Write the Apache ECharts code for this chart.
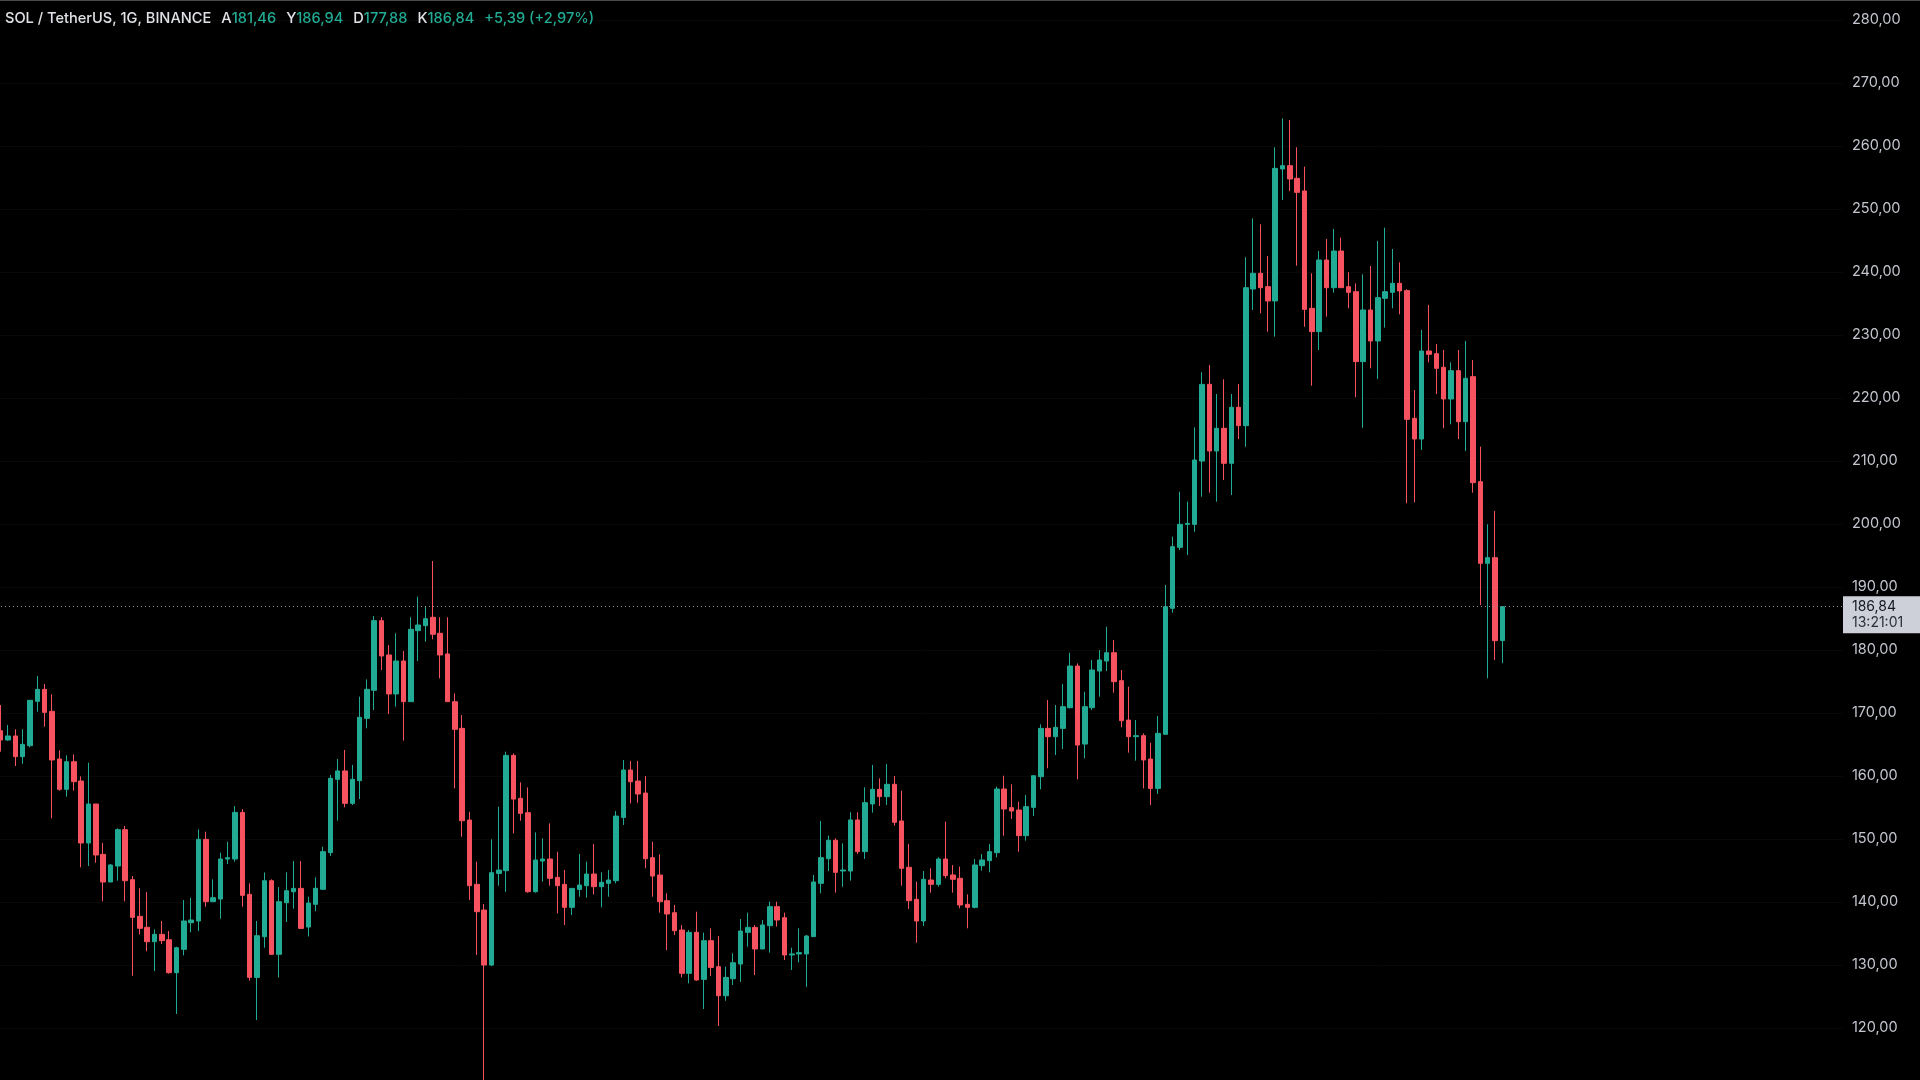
<!DOCTYPE html>
<html><head><meta charset="utf-8">
<script src="https://cdn.jsdelivr.net/npm/echarts@6/dist/echarts.min.js"></script>
<style>html,body{margin:0;padding:0;background:#000;overflow:hidden}#c{width:1920px;height:1080px}</style>
</head><body><div id="c"></div>
<script>
// ---- data (index = candle number, left to right) ----
const opens = [167.16,165.68,166.32,163.04,164.78,171.82,173.72,170.23,162.67,157.85,162.24,159.17,149.33,155.52,147.53,143.14,145.68,151.45,143.51,137.69,135.95,133.67,134.83,133.98,128.75,132.45,136.68,136.95,149.91,140.02,140.44,146.79,146.79,154.19,141.18,128.0,134.46,143.35,131.66,139.86,141.6,142.13,136.0,139.6,141.98,147.8,159.44,160.77,155.63,159.23,169.12,173.57,184.63,179.18,172.99,178.22,171.77,183.04,183.83,185.16,182.62,179.34,171.76,167.53,152.98,142.77,138.69,129.96,144.51,144.94,163.24,156.42,154.14,141.6,146.47,146.79,143.88,142.77,139.12,141.97,142.56,144.41,142.4,142.93,143.35,153.4,160.92,159.17,157.26,147.0,144.25,140.18,138.27,135.52,128.64,135.15,127.69,133.83,129.7,125.09,127.79,130.12,135.15,135.94,132.51,136.21,139.23,137.48,131.56,131.72,131.72,134.47,142.93,146.85,149.76,144.89,144.89,152.99,147.96,155.53,157.85,156.69,158.65,152.83,145.47,140.39,136.95,143.46,142.77,146.79,144.26,143.73,139.6,139.12,145.74,146.53,147.8,157.9,154.94,154.57,150.5,154.99,159.86,167.53,166.21,167.53,170.81,177.42,165.04,170.81,176.63,178.22,179.54,175.1,168.85,166.21,166.37,162.66,158.0,166.58,186.58,196.26,199.91,199.91,209.96,222.14,211.56,215.16,209.6,218.49,215.58,237.27,239.76,237.64,235.37,256.32,256.85,254.84,252.83,234.2,230.5,241.87,237.48,243.3,237.64,236.85,225.74,233.94,229.02,235.79,236.74,238.17,237.01,216.74,213.46,227.43,227.01,224.84,219.81,224.31,216.21,223.36,206.69,193.73,194.63,181.46];
const closes = [165.68,166.32,163.04,164.99,171.98,173.72,170.07,162.51,157.85,162.24,159.07,149.33,155.52,147.43,143.14,145.84,151.45,143.35,137.53,135.79,133.67,134.83,133.83,128.75,132.71,136.95,137.11,149.91,140.02,140.65,146.79,147.0,154.19,141.02,128.0,134.62,143.35,131.66,140.02,141.76,142.13,135.78,139.8,142.14,147.96,159.6,160.77,155.63,159.44,169.28,173.73,184.63,179.02,172.99,178.22,171.77,183.25,183.94,184.94,182.46,179.18,171.77,167.37,152.87,142.56,138.43,129.96,144.62,145.04,163.24,156.31,154.04,141.6,146.63,146.79,143.72,142.56,139.12,142.13,142.66,144.41,142.4,143.09,143.46,153.61,160.92,159.06,157.11,146.84,144.09,140.02,138.06,135.41,128.64,135.15,127.58,133.83,129.59,125.09,128.0,130.33,135.36,135.94,132.51,136.32,139.23,137.11,131.56,131.72,131.93,134.57,143.15,147.01,149.76,144.68,145.05,152.99,147.96,155.74,157.85,156.69,158.65,152.62,145.31,140.18,136.95,143.57,142.77,146.79,144.15,143.57,139.49,139.12,145.84,146.63,147.96,157.9,154.73,154.41,150.5,155.1,160.02,167.53,166.21,167.69,170.97,177.42,164.88,170.97,176.79,178.38,179.54,174.94,168.75,166.21,166.37,162.51,158.0,166.74,186.84,196.37,199.91,200.07,210.12,222.13,211.56,215.16,209.6,218.49,215.58,237.48,239.76,237.48,235.37,256.42,256.85,254.73,252.61,234.04,230.5,241.87,237.48,243.3,237.48,236.74,225.74,233.94,229.02,235.9,236.85,238.17,236.96,216.58,213.46,227.43,226.9,224.68,219.81,224.31,216.21,223.09,206.53,193.73,194.63,181.45,186.84];
const lows = [163.83,165.58,161.55,161.93,164.52,170.18,167.8,153.25,157.64,156.69,157.64,145.47,145.68,146.21,140.07,143.14,143.35,140.07,128.27,134.83,132.14,129.01,133.3,128.59,122.2,131.5,135.15,135.36,139.22,140.02,137.32,146.0,146.36,139.22,127.48,121.23,132.71,131.55,128.0,136.79,138.9,135.78,134.5,138.5,141.9,147.27,152.88,155.0,155.37,156.32,167.54,170.45,176.79,169.81,170.98,165.58,171.77,178.22,181.29,181.66,175.47,171.77,158.0,150.33,140.28,131.55,109.0,129.8,142.56,141.6,150.86,152.87,141.44,141.44,143.19,142.56,138.16,136.31,137.9,140.81,140.65,141.18,139.12,140.81,142.93,152.19,155.62,155.73,145.31,140.81,138.27,132.34,134.72,128.0,127.05,127.48,122.98,128.22,120.28,124.3,126.79,127.27,132.87,128.38,132.51,131.93,136.06,130.76,129.18,130.39,126.5,134.47,141.35,144.89,141.45,142.4,143.36,147.59,146.8,154.15,155.21,155.37,152.09,142.56,138.86,133.51,136.16,141.45,142.4,143.73,141.45,138.96,135.79,138.96,144.94,144.68,147.06,150.5,153.14,147.96,149.7,153.62,157.85,161.19,163.3,164.25,170.7,159.44,162.77,170.44,172.56,176.63,173.19,167.69,163.67,162.4,158.0,155.36,157.11,166.58,185.89,195.84,195.04,198.75,204.3,204.94,203.5,206.95,204.57,213.46,212.24,233.94,233.41,230.5,229.71,251.4,252.83,240.97,231.29,221.93,227.59,232.88,236.69,237.48,234.2,220.08,215.26,224.68,222.99,231.14,234.2,233.25,203.25,203.41,211.72,225.63,220.61,215.16,215.79,213.46,211.56,204.94,187.11,175.47,178.38,177.88];
const highs = [171.24,168.06,167.38,167.38,171.98,175.84,174.57,172.93,164.04,163.25,163.41,159.91,162.08,155.52,149.33,146.0,151.66,152.03,144.09,142.14,141.55,135.62,136.95,135.36,132.87,140.28,140.65,151.5,151.13,143.56,147.79,149.54,155.2,154.72,142.93,136.95,144.67,143.56,142.34,144.67,146.47,146.47,140.82,143.88,148.75,160.13,162.67,164.1,161.72,172.56,175.31,185.37,185.16,180.76,182.62,179.81,185.16,188.44,186.85,194.1,185.16,185.16,173.09,169.65,154.3,146.37,139.65,149.91,155.1,163.83,163.56,158.96,158.16,151.02,150.07,152.45,147.95,145.04,142.13,147.58,146.37,149.17,144.67,145.04,154.41,162.5,162.34,162.34,159.96,149.54,147.53,141.34,139.49,136.31,135.52,138.43,135.1,135.78,134.57,129.7,131.82,137.27,138.27,136.3,137.11,140.02,140.02,138.28,132.72,135.79,134.73,144.26,152.83,150.5,150.08,149.28,154.2,154.2,158.17,161.72,159.6,161.88,159.97,157.64,149.17,143.2,144.89,145.31,147.06,152.72,145.84,145.58,141.18,146.79,147.59,149.17,158.27,160.02,158.64,155.89,156.95,160.02,168.17,172.03,171.23,174.57,179.54,177.85,173.35,178.38,179.96,183.67,181.55,176.79,174.14,168.85,166.74,165.25,169.49,190.28,197.95,205.1,203.51,215.31,224.04,225.21,220.6,222.93,220.6,222.19,242.3,248.49,247.53,242.51,259.76,264.36,264.1,259.76,256.69,239.76,243.3,245.21,246.8,245.42,239.92,238.17,239.6,240.92,244.89,247.01,243.62,241.51,237.22,221.24,230.77,234.73,228.54,227.59,225.63,227.59,229.02,226.0,212.25,199.92,202.04,186.94];
const priceTicks = [120,130,140,150,160,170,180,190,200,210,220,230,240,250,260,270,280];
const lastPrice = 186.84;
const countdownText = '13:21:01';
const symbolText = 'SOL / TetherUS, 1G, BINANCE';
const ohlcKeys = ['A','Y','D','K'];
const ohlcVals = ['181,46','186,94','177,88','186,84'];
const changeText = '+5,39 (+2,97%)';

const UP = '#22ab94', DOWN = '#f7525f';
const FONT = 'Inter, Roboto, sans-serif';
const slotCount = 252; // candles plus empty right margin
const categories = Array.from({length: slotCount}, (_, i) => String(i));
const candleData = opens.map((o, i) => [o, closes[i], lows[i], highs[i]]);
const fmt = v => v.toFixed(2).replace('.', ',');

const chart = echarts.init(document.getElementById('c'), null, {renderer: 'canvas'});
const headerRich = '{w|' + symbolText + '}  ' +
  ohlcKeys.map((k, i) => '{w|' + k + '}{g|' + ohlcVals[i] + '}').join('  ') + '  {g|' + changeText + '}';

chart.setOption({
  backgroundColor: '#000000',
  animation: false,
  title: {
    left: 5, top: 10, padding: 0,
    text: headerRich,
    textStyle: {
      fontWeight: 500,
      rich: {
        w: {color: '#dfe1e6', fontSize: 14.6, fontWeight: 500, fontFamily: FONT},
        g: {color: UP, fontSize: 14.6, fontWeight: 500, fontFamily: FONT}
      }
    }
  },
  grid: {left: -2.99, right: 77.1, top: -43.2, bottom: -10.8, containLabel: false, outerBoundsMode: 'none'},
  xAxis: {
    type: 'category', data: categories, boundaryGap: true, show: false
  },
  yAxis: {
    type: 'value', position: 'right', min: 110, max: 290, interval: 10, scale: true,
    axisLine: {show: false}, axisTick: {show: false},
    splitLine: {show: true, lineStyle: {color: '#080808', width: 1}},
    axisLabel: {
      color: '#c3c6ce', fontSize: 14.5, fontFamily: FONT, margin: 9,
      formatter: v => priceTicks.indexOf(Math.round(v)) >= 0 ? fmt(v) : ''
    }
  },
  series: [{
    type: 'candlestick',
    data: candleData,
    barWidth: 5,
    itemStyle: {
      color: UP, color0: DOWN, borderColor: UP, borderColor0: DOWN,
      borderColorDoji: UP, borderWidth: 1
    },
    markLine: {
      silent: true, symbol: ['none', 'none'],
      label: {show: false},
      lineStyle: {color: '#8d9099', type: [1, 3], width: 1},
      data: [{yAxis: lastPrice}]
    }
  }]
});

const yPix = chart.convertToPixel({yAxisIndex: 0}, lastPrice);
chart.setOption({
  graphic: [
    {type: 'line', shape: {x1: 0, y1: 0.5, x2: 1920, y2: 0.5}, style: {stroke: '#4a4a4a', lineWidth: 1}, silent: true},
    {type: 'rect', shape: {x: 1843, y: yPix - 10.5, width: 77, height: 37}, style: {fill: '#cdd0d8'}, silent: true},
    {type: 'text', x: 1852, y: yPix, style: {text: fmt(lastPrice), fill: '#131722', font: '14px ' + FONT, verticalAlign: 'middle'}, silent: true},
    {type: 'text', x: 1852, y: yPix + 16, style: {text: countdownText, fill: '#2a2e39', font: '14px ' + FONT, verticalAlign: 'middle'}, silent: true}
  ]
});
</script>
</body></html>
